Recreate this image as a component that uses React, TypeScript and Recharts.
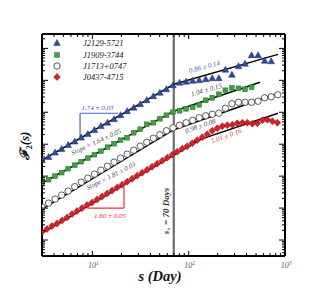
import React from 'react';
import { ComposedChart, XAxis, YAxis, Scatter, Line, ReferenceLine } from 'recharts';

// scales (days) for the three coarser series
const sGrid = [3.0, 3.51, 4.1, 4.8, 5.61, 6.56, 7.67, 8.97, 10.5, 12.27, 14.35, 16.79, 19.63, 22.96, 26.85, 31.4, 36.7, 42.95, 50.2, 58.7, 68.7, 80.4, 94.0, 109.9, 128.5, 150.3, 175.8, 205.6, 240.4, 281.2, 328.9, 384.6, 449.8, 526, 615, 719.5, 841.4];
// scales (days) for J0437-4715
const sRed = [3.0, 3.38, 3.81, 4.3, 4.84, 5.46, 6.15, 6.93, 7.82, 8.81, 9.93, 11.19, 12.62, 14.22, 16.03, 18.07, 20.37, 22.96, 25.88, 29.17, 32.88, 37.07, 41.78, 47.1, 53.09, 59.84, 67.45, 76.03, 85.7, 96.6, 108.9, 122.7, 138.4, 156.0, 175.8, 198.2, 223.4, 251.8, 283.8, 319.9, 360.6, 406.4, 458.1, 516.4, 582.1, 656.1, 739.6, 833.7];

const blueF = [316, 393, 542, 698, 931, 1197, 1596, 2056, 2742, 3656, 4700, 6040, 8050, 10740, 13840, 17780, 23710, 31620, 40640, 52360, 69800, 83600, 89700, 96400, 100000, 107400, 115600, 115600, 212800, 148600, 274200, 328100, 604000, 604000, 406400, 392600];
const greenF = [60.4, 77.8, 100, 128.6, 171.4, 220.8, 283.8, 365.6, 470, 604, 805, 1038, 1334, 1596, 2286, 2944, 4217, 4700, 6270, 8050, 10000, 11140, 12860, 14320, 17140, 23710, 28380, 36560, 48750, 58340, 56230, 52360, 60400];
const circleF = [10.74, 14.32, 19.1, 25.47, 33.96, 47.0, 65.0, 86.7, 115.6, 154.2, 205.6, 274.2, 365.6, 487.5, 650, 867, 1156, 1542, 1982, 2642, 3281, 3926, 4700, 5623, 6730, 7780, 8670, 9310, 13340, 18450, 20560, 20560, 20560, 22080, 28380, 30480, 35240];
const redF = [1.778, 2.208, 2.738, 3.281, 4.064, 5.047, 6.494, 8.05, 10, 12.41, 14.86, 18.45, 22.87, 28.38, 35.24, 43.73, 54.2, 67.3, 83.6, 103.7, 128.6, 159.6, 198.2, 246, 304.8, 378.4, 469.5, 583.4, 722.8, 866, 1074, 1334, 1655, 2054, 2642, 3162, 3652, 3926, 4064, 4529, 4699, 4699, 4373, 4529, 5623, 5834, 5236, 4699];

// fitted power-law segments (endpoints)
const blueFitSmallS = [3, 70];
const blueFitSmallF = [316, 75000];
const blueFitLargeS = [70, 847];
const blueFitLargeF = [75000, 649000];
const greenFitSmallS = [3, 70];
const greenFitSmallF = [60.4, 10820];
const greenFitLargeS = [70, 551];
const greenFitLargeF = [10820, 86600];
const circleFitSmallS = [3, 70];
const circleFitSmallF = [9.31, 2838];
const circleFitLargeS = [70, 847];
const circleFitLargeF = [2838, 39260];
const redFitSmallS = [3, 131];
const redFitSmallF = [1.655, 1383];
const redFitLargeS = [103, 847];
const redFitLargeF = [1099, 9306];

const xTicks = [3, 4, 5, 6, 7, 8, 9, 10, 20, 30, 40, 50, 60, 70, 80, 90, 100, 200, 300, 400, 500, 600, 700, 800, 900, 1000];
const xTickLabels: Record<number, string> = { 10: '1', 100: '2', 1000: '3' };
const legendNames = ['J2129-5721', 'J1909-3744', 'J1713+0747', 'J0437-4715'];

const X_DOMAIN = [3, 1000];
const Y_DOMAIN = [0.316, 2.82e6];

function logTicks(lo: number, hi: number) {
  const out: number[] = [];
  for (let e = Math.floor(Math.log10(lo)); e <= Math.ceil(Math.log10(hi)); e++) {
    for (let m = 1; m <= 9; m++) {
      const v = Number((m * Math.pow(10, e)).toPrecision(3));
      if (v >= lo && v <= hi) out.push(v);
    }
  }
  return out;
}
const yTicks = logTicks(Y_DOMAIN[0], Y_DOMAIN[1]);

const zip = (s: number[], f: number[]) => f.map((v, i) => ({ s: s[i], f: v }));

const blueData = zip(sGrid, blueF);
const greenData = zip(sGrid, greenF);
const circleData = zip(sGrid, circleF);
const redData = zip(sRed, redF);

const isMajor = (v: number) => Math.abs(Math.log10(v) - Math.round(Math.log10(v))) < 1e-6;

const SERIF = 'Liberation Serif, DejaVu Serif, serif';
const BLUE = '#2f4a9e';
const BLUE_TXT = '#4a60c4';
const GREEN = '#3fa23f';
const RED = '#d42027';
const RED_TXT = '#e2333a';
const GRAY_TXT = '#4a4a4a';

const BottomTick = (p: any) => {
  const { x, y, payload } = p;
  const v = payload.value;
  const major = isMajor(v);
  return (
    <g>
      <line x1={x} x2={x} y1={y} y2={y - (major ? 5 : 3)} stroke="#000" strokeWidth={1} />
      {xTickLabels[v] && (
        <text x={x + 1} y={y + 12} textAnchor="middle" fontFamily={SERIF} fontStyle="italic" fontSize={8} fill="#555">
          10<tspan dy={-3} fontSize={5.5}>{xTickLabels[v]}</tspan>
        </text>
      )}
    </g>
  );
};
const TopTick = (p: any) => {
  const { x, y, payload } = p;
  const major = isMajor(payload.value);
  return <line x1={x} x2={x} y1={y} y2={y + (major ? 5 : 3)} stroke="#000" strokeWidth={1} />;
};
const LeftTick = (p: any) => {
  const { x, y, payload } = p;
  const major = isMajor(payload.value);
  return <line x1={x} x2={x + (major ? 6 : 3)} y1={y} y2={y} stroke="#000" strokeWidth={1} />;
};
const RightTick = (p: any) => {
  const { x, y, payload } = p;
  const major = isMajor(payload.value);
  return <line x1={x} x2={x - (major ? 6 : 3)} y1={y} y2={y} stroke="#000" strokeWidth={1} />;
};

const triPath = (cx: number, cy: number) => `M${cx},${cy - 3.6} L${cx + 3.3},${cy + 2.4} L${cx - 3.3},${cy + 2.4} Z`;
const Tri = (p: any) => <path d={triPath(p.cx, p.cy)} fill={BLUE} stroke="#1c2d6b" strokeWidth={0.5} />;
const Sq = (p: any) => <rect x={p.cx - 2.4} y={p.cy - 2.4} width={4.8} height={4.8} fill={GREEN} stroke="#23702a" strokeWidth={0.5} />;
const Circ = (p: any) => <circle cx={p.cx} cy={p.cy} r={3.2} fill="#fff" stroke="#333" strokeWidth={0.8} />;
const Dia = (p: any) => <path d={`M${p.cx},${p.cy - 3.5} L${p.cx + 3.3},${p.cy} L${p.cx},${p.cy + 3.5} L${p.cx - 3.3},${p.cy} Z`} fill={RED} stroke="#8a1313" strokeWidth={0.5} />;

const fitLine = (s: number[], f: number[], key: string) => (
  <Line
    key={key}
    data={zip(s, f)}
    dataKey="f"
    type="linear"
    stroke="#000"
    strokeWidth={1.5}
    dot={false}
    activeDot={false}
    isAnimationActive={false}
    legendType="none"
  />
);

const W = 317;
const H = 281;

export default function App() {
  return (
    <div style={{ position: 'relative', width: W, height: H }}>
      <ComposedChart width={W} height={H} margin={{ top: 25, left: 33, right: 39, bottom: 32 }}>
        <XAxis
          dataKey="s"
          type="number"
          scale="log"
          domain={X_DOMAIN}
          allowDataOverflow
          ticks={xTicks}
          interval={0}
          height={1}
          tickSize={0}
          tickMargin={0}
          tick={(p: any) => <BottomTick {...p} />}
          tickLine={false}
          axisLine={{ stroke: '#000', strokeWidth: 2 }}
        />
        <XAxis
          xAxisId="top"
          orientation="top"
          dataKey="s"
          type="number"
          scale="log"
          domain={X_DOMAIN}
          allowDataOverflow
          ticks={xTicks}
          interval={0}
          height={1}
          tickSize={0}
          tickMargin={0}
          tick={(p: any) => <TopTick {...p} />}
          tickLine={false}
          axisLine={{ stroke: '#000', strokeWidth: 2 }}
        />
        <YAxis
          dataKey="f"
          type="number"
          scale="log"
          domain={Y_DOMAIN}
          allowDataOverflow
          ticks={yTicks}
          interval={0}
          width={1}
          tickSize={0}
          tickMargin={0}
          tick={(p: any) => <LeftTick {...p} />}
          tickLine={false}
          axisLine={{ stroke: '#000', strokeWidth: 2 }}
        />
        <YAxis
          yAxisId="right"
          orientation="right"
          dataKey="f"
          type="number"
          scale="log"
          domain={Y_DOMAIN}
          allowDataOverflow
          ticks={yTicks}
          interval={0}
          width={1}
          tickSize={0}
          tickMargin={0}
          tick={(p: any) => <RightTick {...p} />}
          tickLine={false}
          axisLine={{ stroke: '#000', strokeWidth: 2 }}
        />
        <ReferenceLine x={70} stroke="#6e6e6e" strokeWidth={2.2} />
        <ReferenceLine segment={[{ x: 7.45, y: 1655 }, { x: 7.45, y: 9306 }]} stroke={BLUE_TXT} strokeWidth={1.2} />
        <ReferenceLine segment={[{ x: 7.45, y: 9306 }, { x: 18.45, y: 9306 }]} stroke={BLUE_TXT} strokeWidth={1.2} />
        <ReferenceLine segment={[{ x: 21.3, y: 45.3 }, { x: 21.3, y: 10 }]} stroke={RED_TXT} strokeWidth={1.2} />
        <ReferenceLine segment={[{ x: 9.02, y: 10 }, { x: 21.3, y: 10 }]} stroke={RED_TXT} strokeWidth={1.2} />
        <Scatter name={legendNames[0]} data={blueData} dataKey="f" shape={(p: any) => <Tri {...p} />} isAnimationActive={false} />
        <Scatter name={legendNames[1]} data={greenData} dataKey="f" shape={(p: any) => <Sq {...p} />} isAnimationActive={false} />
        <Scatter name={legendNames[2]} data={circleData} dataKey="f" shape={(p: any) => <Circ {...p} />} isAnimationActive={false} />
        <Scatter name={legendNames[3]} data={redData} dataKey="f" shape={(p: any) => <Dia {...p} />} isAnimationActive={false} />
        {fitLine(blueFitSmallS, blueFitSmallF, 'b1')}
        {fitLine(blueFitLargeS, blueFitLargeF, 'b2')}
        {fitLine(greenFitSmallS, greenFitSmallF, 'g1')}
        {fitLine(greenFitLargeS, greenFitLargeF, 'g2')}
        {fitLine(circleFitSmallS, circleFitSmallF, 'c1')}
        {fitLine(circleFitLargeS, circleFitLargeF, 'c2')}
        {fitLine(redFitSmallS, redFitSmallF, 'r1')}
        {fitLine(redFitLargeS, redFitLargeF, 'r2')}
      </ComposedChart>
      <svg
        width={W}
        height={H}
        style={{ position: 'absolute', left: 0, top: 0, pointerEvents: 'none', overflow: 'visible' }}
      >
        {/* legend */}
        <path d={triPath(49, 35)} fill={BLUE} stroke="#1c2d6b" strokeWidth={0.5} />
        <rect x={46.6} y={44.6} width={4.8} height={4.8} fill={GREEN} stroke="#23702a" strokeWidth={0.5} />
        <circle cx={49} cy={58} r={3.2} fill="#fff" stroke="#333" strokeWidth={0.8} />
        <path d="M49,65.5 L52.3,69 L49,72.5 L45.7,69 Z" fill={RED} stroke="#8a1313" strokeWidth={0.5} />
        {legendNames.map((n, i) => (
          <text key={n} x={75} y={[38, 50, 61, 72][i]} fontFamily={SERIF} fontStyle="italic" fontSize={8.5} fill="#222">
            {n}
          </text>
        ))}
        {/* axis titles */}
        <text
          transform="translate(21,138) rotate(-90)"
          textAnchor="middle"
          fontFamily={SERIF}
          fontWeight="bold"
          fontSize={13}
          fill="#111"
        >
          <tspan fontFamily="DejaVu Serif, serif" fontStyle="italic">ℱ</tspan>
          <tspan dy={3} fontSize={8}>2</tspan>
          <tspan dy={-3} fontStyle="italic">(s)</tspan>
        </text>
        <text x={152} y={273} textAnchor="middle" fontFamily={SERIF} fontWeight="bold" fontStyle="italic" fontSize={14.5} fill="#111">
          s (Day)
        </text>
        {/* crossover label */}
        <text
          transform="translate(161,203) rotate(-90)"
          textAnchor="middle"
          fontFamily={SERIF}
          fontWeight="bold"
          fontStyle="italic"
          fontSize={9}
          fill="#333"
        >
          s<tspan dy={2} fontSize={6}>×</tspan>
          <tspan dy={-2}> = 70 Days</tspan>
        </text>
        {/* slope annotations */}
        <text x={89.5} y={101.5} textAnchor="middle" fontFamily={SERIF} fontStyle="italic" fontSize={7} fill={BLUE_TXT}>
          1.74 ± 0.03
        </text>
        <text x={102} y={209.5} textAnchor="middle" fontFamily={SERIF} fontStyle="italic" fontSize={7} fill={RED_TXT}>
          1.80 ± 0.05
        </text>
        <text transform="translate(89,136) rotate(-25)" textAnchor="middle" fontFamily={SERIF} fontStyle="italic" fontSize={6.8} fill={GRAY_TXT}>
          Slope = 1.64 ± 0.05
        </text>
        <text transform="translate(104,170) rotate(-27)" textAnchor="middle" fontFamily={SERIF} fontStyle="italic" fontSize={6.8} fill={GRAY_TXT}>
          Slope = 1.81 ± 0.03
        </text>
        <text transform="translate(197,61) rotate(-15)" textAnchor="middle" fontFamily={SERIF} fontStyle="italic" fontSize={7} fill={BLUE_TXT}>
          0.86 ± 0.14
        </text>
        <text transform="translate(199,84) rotate(-16)" textAnchor="middle" fontFamily={SERIF} fontStyle="italic" fontSize={7} fill={GRAY_TXT}>
          1.04 ± 0.15
        </text>
        <text transform="translate(193,120) rotate(-19)" textAnchor="middle" fontFamily={SERIF} fontStyle="italic" fontSize={7} fill={GRAY_TXT}>
          0.98 ± 0.08
        </text>
        <text transform="translate(219,130) rotate(-20)" textAnchor="middle" fontFamily={SERIF} fontStyle="italic" fontSize={7} fill={RED_TXT}>
          1.01 ± 0.16
        </text>
      </svg>
    </div>
  );
}
